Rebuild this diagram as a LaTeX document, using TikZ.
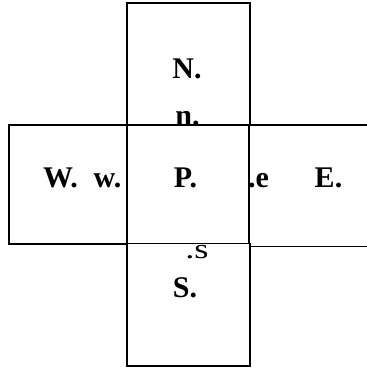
\documentclass[tikz,border=0pt]{standalone}
\usepackage{fontspec}
\setmainfont{Liberation Serif}
\begin{document}
\begin{tikzpicture}[x=1pt,y=-1pt,
  cellline/.style={draw=black,line width=1.8pt},
  lbl/.style={anchor=base,inner sep=0pt,font=\fontsize{30}{30}\selectfont\bfseries},
  sml/.style={anchor=base,inner sep=0pt,font=\fontsize{28}{28}\selectfont}]
\useasboundingbox (0,0) rectangle (367,370);
% cells
\draw[cellline] (127.3,3) rectangle (249.7,125);
\draw[cellline] (8.7,124.7) rectangle (127.3,244.3);
\draw[cellline] (127.3,125) rectangle (249.3,243.5);
\draw[cellline] (127.3,243.5) rectangle (249.7,365.7);
\draw[cellline] (249.3,125) -- (368,125);
\draw[cellline] (249.3,246.5) -- (368,246.5);
% labels
\node[lbl] (Nl) at (187,78) {N.};
\node[lbl] (nl) at (187.5,125) {n.};
\node[lbl] (Wl) at (60.5,187) {W.};
\node[lbl] (wl) at (107.5,187) {w.};
\node[lbl] (Pl) at (185.5,187) {P.};
\node[lbl] (el) at (258.5,187) {.e};
\node[lbl] (El) at (328.5,187) {E.};
\node[sml] (sl) at (197,258) {\scalebox{1.3}[1]{.s}};
\node[lbl] (Sl) at (185,297) {S.};
\end{tikzpicture}
\end{document}
